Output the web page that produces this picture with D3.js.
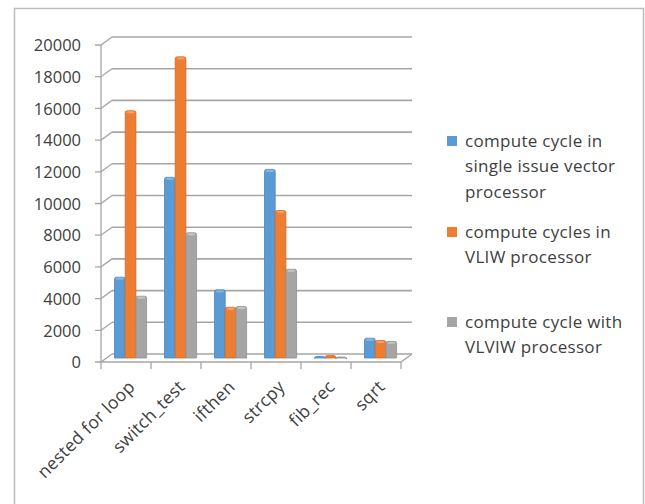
<!DOCTYPE html>
<html><head><meta charset="utf-8">
<script src="https://cdn.jsdelivr.net/npm/d3@7"></script>
<style>
html,body{margin:0;padding:0;background:#fff;}
svg{display:block;}
text{font-family:"Open Sans","DejaVu Sans",sans-serif;}
</style></head>
<body><svg id="chart" width="645" height="504"></svg>
<script>
const categories = ["nested for loop","switch_test","ifthen","strcpy","fib_rec","sqrt"];
const seriesNames = [
  ["compute cycle in","single issue vector","processor"],
  ["compute cycles in","VLIW processor"],
  ["compute cycle with","VLVIW processor"]
];
const singleIssue = [5100, 11400, 4300, 11900, 100, 1250];
const vliw = [15600, 19000, 3200, 9300, 150, 1100];
const vlviw = [3900, 7900, 3250, 5600, 60, 1050];
const yTicks = [0,2000,4000,6000,8000,10000,12000,14000,16000,18000,20000];
const colors = ["#5b9bd5","#ed7d31","#a5a5a5"];
const edge = ["#4a86bd","#d0692a","#8f8f8f"];
const capC = ["#8ab8e3","#f5a36d","#c4c4c4"];

const svg = d3.select("#chart");
svg.append("path").attr("d","M14.5,504 V8.5 H643.5 V504").attr("fill","none")
  .attr("stroke","#bdbdbd").attr("stroke-width",1.5);

const x0 = 101, x1 = 401;
const dx = 11, dy = -8;
const x = d3.scaleBand().domain(categories).range([x0,x1]);
const y = d3.scaleLinear().domain([0,20000]).range([362,45]);
const gridC = "#a6a6a6";

const g = svg.append("g");
yTicks.forEach(t=>{
  const yy = y(t);
  g.append("line").attr("x1",x0+dx).attr("x2",x1+dx).attr("y1",yy+dy).attr("y2",yy+dy)
   .attr("stroke",gridC).attr("stroke-width",1.6);
  g.append("path").attr("d",`M${x0-6},${yy} H${x0} L${x0+dx},${yy+dy}`)
   .attr("fill","none").attr("stroke",gridC).attr("stroke-width",1.3);
});
g.append("line").attr("x1",x0).attr("x2",x0).attr("y1",y(20000)).attr("y2",y(0))
  .attr("stroke",gridC).attr("stroke-width",1.3);
g.append("path").attr("d",`M${x0},${y(0)} H${x1} L${x1+dx},${y(0)+dy}`)
  .attr("fill","none").attr("stroke",gridC).attr("stroke-width",1.3);
d3.range(categories.length+1).forEach(i=>{
  const xx = x0 + i*x.bandwidth();
  g.append("line").attr("x1",xx).attr("x2",xx).attr("y1",y(0)).attr("y2",y(0)+7)
   .attr("stroke",gridC).attr("stroke-width",1.3);
});

const yAxis = d3.axisLeft(y).tickValues(yTicks).tickFormat(d3.format("d")).tickSize(0).tickPadding(0);
const ya = svg.append("g").attr("transform",`translate(${x0-20},0)`).call(yAxis);
ya.select(".domain").remove();
ya.selectAll("text").attr("font-size",16.5).attr("fill","#404040")
  .attr("font-family","'Open Sans',sans-serif").attr("dy","0.35em");

const mdx = 5.5, mdy = -4;
const series = [singleIssue, vliw, vlviw];
const bw = 10.7, pad = 8;
series.forEach((vals,si)=>{
  const sg = svg.append("g");
  vals.forEach((v,ci)=>{
    const bx = x(categories[ci]) + mdx + pad + si*bw;
    const top = y(v) + mdy, bot = y(0) + mdy;
    const h = Math.max(bot-top, 1);
    sg.append("path")
      .attr("d",`M${bx},${bot} V${top+2} Q${bx},${top} ${bx+2},${top} H${bx+bw-2} Q${bx+bw},${top} ${bx+bw},${top+2} V${bot} Z`)
      .attr("fill",colors[si]).attr("stroke",edge[si]).attr("stroke-width",0.8);
    sg.append("ellipse").attr("cx",bx+bw/2).attr("cy",top+1.5).attr("rx",bw/2-1.2).attr("ry",1.2)
      .attr("fill",capC[si]).attr("opacity",h>4?0.9:0);
  });
});

const xl = svg.append("g");
categories.forEach(c=>{
  const cx = x(c) + x.bandwidth()/2 + 5;
  xl.append("text").attr("transform",`translate(${cx},${y(0)+21}) rotate(-45)`)
    .attr("text-anchor","end").attr("dominant-baseline","central")
    .attr("font-size",17.5).attr("letter-spacing",0.3).attr("fill","#404040").text(c);
});

const legY = [141, 232, 322];
seriesNames.forEach((lines,i)=>{
  svg.append("rect").attr("x",447).attr("y",legY[i]-5).attr("width",10).attr("height",10)
    .attr("fill",colors[i]);
  lines.forEach((l,j)=>{
    svg.append("text").attr("x",465).attr("y",legY[i]+j*25.5).attr("dy","0.35em")
      .attr("font-size",17).attr("letter-spacing",0.3).attr("fill","#404040").text(l);
  });
});
</script></body></html>
